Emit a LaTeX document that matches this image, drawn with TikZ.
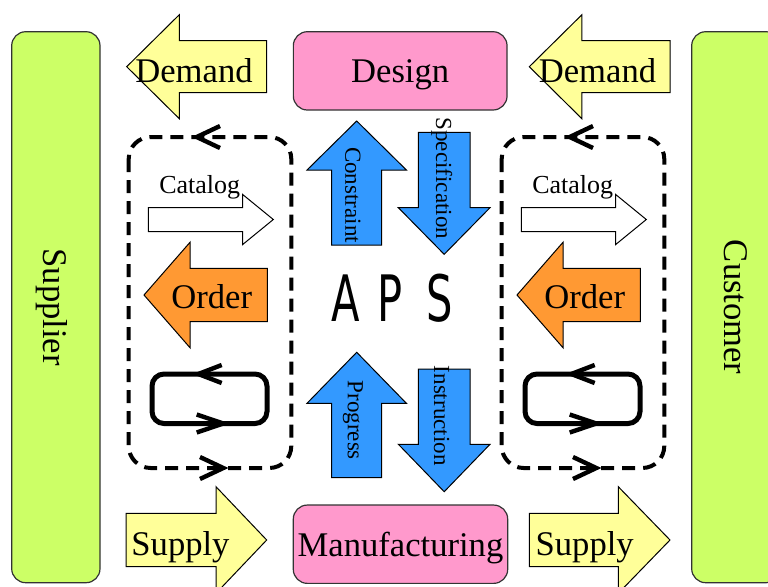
\documentclass[tikz,border=0pt]{standalone}
\usepackage{fontspec}
\setmainfont{Liberation Serif}
\newfontfamily\apsfont[FakeStretch=0.65]{DejaVu Sans}
\usetikzlibrary{positioning}
\definecolor{yellow}{RGB}{255,255,153}
\definecolor{pink}{RGB}{255,153,204}
\definecolor{lime}{RGB}{204,255,102}
\definecolor{orange}{RGB}{255,153,51}
\definecolor{blue}{RGB}{51,153,255}

% block arrow: style, tail, angle, length, shaft half, head half, head length
\newcommand{\blockarrow}[7]{%
  \draw[#1, shift={#2}, rotate=#3] (0,-#5) -- ({#4-#7},-#5) -- ({#4-#7},-#6) -- (#4,0)
    -- ({#4-#7},#6) -- ({#4-#7},#5) -- (0,#5) -- cycle;}

\begin{document}
\begin{tikzpicture}[x=0.5pt, y=-0.5pt,
    box/.style={draw=black!80, line width=0.6pt, rounded corners=7pt, text depth=0pt, inner sep=0pt},
    big/.style={font=\fontsize{17.3}{20}\selectfont, inner sep=0pt},
    mid/.style={font=\fontsize{13}{15}\selectfont, inner sep=0pt},
    small/.style={font=\fontsize{11.5}{13}\selectfont, inner sep=0pt, rotate=-90},
    outline/.style={draw=black, line width=0.5pt},
    dashbox/.style={draw, line width=2pt, dash pattern=on 6.5pt off 4pt, rounded corners=11pt},
    cyclebox/.style={draw, line width=2.5pt, rounded corners=6pt},
    chev/.style={line width=2.2pt}]
    \useasboundingbox (0,0) rectangle (768,586);

    % side boxes
    \node[box, fill=lime, rotate=-90, minimum width=275.5pt, minimum height=44.15pt, big] (supplier) at (55.85,307.2) {Supplier};
    \node[box, fill=lime, rotate=-90, minimum width=275.5pt, minimum height=44.15pt, big] (customer) at (735.85,307.2) {Customer};

    % top and bottom boxes
    \node[box, fill=pink, minimum width=106.85pt, minimum height=39.15pt, big] (design) at (400.2,70.85) {Design};
    \node[box, fill=pink, minimum width=107.2pt, minimum height=39.15pt, big] (manufacturing) at (400.5,544.2) {Manufacturing};

    % demand and supply arrows
    \blockarrow{outline, fill=yellow}{(266.7,66.7)}{180}{140}{26}{52}{52.6}
    \blockarrow{outline, fill=yellow}{(670,66.7)}{180}{140.7}{26}{52}{52.6}
    \blockarrow{outline, fill=yellow}{(126,540)}{0}{140.7}{26.7}{53.3}{50.7}
    \blockarrow{outline, fill=yellow}{(529.3,540)}{0}{140.7}{26.7}{53.3}{51.7}
    \node[big] (demandL) at (194,71) {Demand};
    \node[big] (demandR) at (597.5,71) {Demand};
    \node[big] (supplyL) at (180.5,547) {Supply};
    \node[big] (supplyR) at (584.7,547) {Supply};

    % catalog, order and cycle on both sides
    \foreach \dx in {0,373} {
      \begin{scope}[shift={(\dx,0)}]
        \draw[dashbox] (128.7,137) rectangle (291.3,468);
        \draw[chev] (220,126) -- (196.7,137) -- (220,148);
        \draw[chev] (200,457) -- (223.3,468) -- (200,479);
        \blockarrow{outline, fill=white}{(148.3,219.5)}{0}{125}{12}{25}{30.6}
        \node[mid] (catalog\dx) at (199.7,187) {Catalog};
        \blockarrow{outline, fill=orange}{(267.3,295)}{180}{123.3}{26.7}{52.7}{46}
        \node[big] (order\dx) at (211.7,296.7) {Order};
        \draw[cyclebox] (152,374) rectangle (267,423.5);
        \draw[chev] (221.7,365) -- (198.3,374) -- (221.7,383);
        \draw[chev] (196.7,414.5) -- (223.3,423.5) -- (196.7,432.5);
      \end{scope}
    }

    % blue arrows around APS
    \blockarrow{outline, fill=blue}{(356.7,245)}{90}{124}{25}{49.7}{49}
    \blockarrow{outline, fill=blue}{(444.2,132.3)}{-90}{122}{25.8}{45.8}{46.6}
    \blockarrow{outline, fill=blue}{(356.7,477.7)}{90}{125.4}{25}{49.7}{51}
    \blockarrow{outline, fill=blue}{(444.2,369)}{-90}{122.7}{25.8}{45.8}{47.4}
    \node[small] (constraint) at (353,195) {Constraint};
    \node[small] (specification) at (441.7,178.3) {Specification};
    \node[small] (progress) at (353,420.3) {Progress};
    \node[small] (instruction) at (441.7,415.7) {Instruction};

    \node[inner sep=0pt, font=\apsfont\fontsize{32}{38}\selectfont] (aps) at (392,298.4) {A\hspace{9pt}P\hspace{11.5pt}S};
\end{tikzpicture}
\end{document}
